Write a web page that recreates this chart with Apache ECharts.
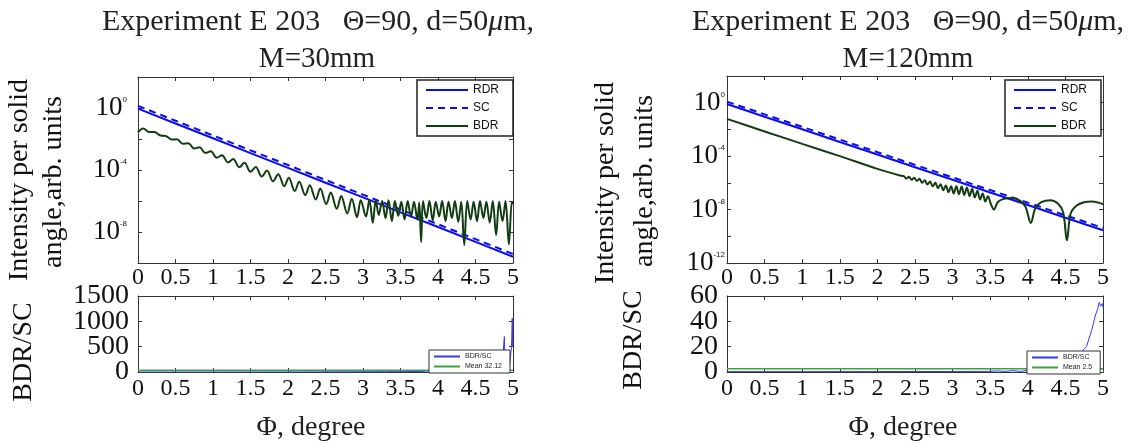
<!DOCTYPE html>
<html>
<head>
<meta charset="utf-8">
<script src="https://cdn.jsdelivr.net/npm/echarts@6/dist/echarts.min.js"></script>
<style>
html,body{margin:0;padding:0;background:#fff;}
#c{width:1135px;height:444px;}
</style>
</head>
<body>
<div id="c"></div>
<script>
// ---------------- data (intensities given as log10 values) ----------------
const xLine = [0, 0.5, 1, 1.5, 2, 2.5, 3, 3.5, 4, 4.5, 5];
const rdrLeftLog = [-0.04, -1.0, -1.95, -2.91, -3.86, -4.82, -5.77, -6.73, -7.68, -8.64, -9.6];
const scLeftLog  = [0.14, -0.82, -1.77, -2.73, -3.68, -4.64, -5.59, -6.55, -7.5, -8.46, -9.42];
const rdrRightLog = [-0.1, -1.05, -1.99, -2.94, -3.88, -4.83, -5.77, -6.72, -7.66, -8.61, -9.55];
const scRightLog  = [0.08, -0.87, -1.81, -2.76, -3.7, -4.65, -5.59, -6.54, -7.48, -8.43, -9.37];

const bdrLeftX = [0.00,0.07,0.15,0.22,0.30,0.37,0.45,0.52,0.60,0.67,0.75,0.82,0.90,0.97,1.05,1.12,1.20,1.27,1.35,1.42,
  1.50,1.57,1.65,1.72,1.80,1.87,1.95,2.01,2.09,2.15,2.23,2.29,2.37,2.43,2.51,2.57,2.65,2.71,2.79,2.85,2.92,2.97,
  3.04,3.085,3.13,3.17,3.21,3.255,3.30,3.34,3.385,3.425,3.47,3.51,3.555,3.595,3.64,3.68,3.725,3.75,3.775,3.80,
  3.845,3.885,3.93,3.97,4.015,4.055,4.10,4.14,4.185,4.225,4.27,4.31,4.35,4.39,4.435,4.475,4.52,4.56,4.605,4.645,
  4.69,4.73,4.775,4.815,4.86,4.90,4.945,4.985,5.0];
const bdrLeftLog = [-1.56,-1.32,-1.55,-1.55,-1.78,-1.80,-2.04,-2.02,-2.31,-2.27,-2.61,-2.53,-2.91,-2.79,-3.21,-3.05,-3.51,-3.29,-3.82,-3.54,
  -4.12,-3.80,-4.42,-4.03,-4.73,-4.28,-5.05,-4.50,-5.35,-4.75,-5.62,-4.98,-5.90,-5.20,-6.20,-5.45,-6.50,-5.68,-6.80,-5.85,-7.05,-5.95,
  -7.0,-5.9,-7.4,-5.95,-6.9,-6.0,-7.1,-5.95,-7.3,-6.0,-6.95,-6.05,-7.2,-6.0,-7.0,-6.05,-7.2,-6.1,-8.65,-6.0,
  -7.1,-6.0,-7.25,-6.05,-7.0,-6.0,-7.3,-6.05,-7.1,-6.0,-7.35,-6.05,-8.85,-6.0,-7.2,-6.05,-7.3,-6.0,-7.1,-6.05,
  -7.4,-6.0,-8.2,-6.05,-7.3,-6.0,-8.8,-6.05,-6.2];

const bdrRightX = [0, 0.5, 1.0, 1.5, 2.0, 2.3,
  2.35,2.385,2.42,2.455,2.49,2.525,2.56,2.595,2.63,2.665,2.70,2.735,2.77,2.805,2.84,2.875,2.91,2.945,2.98,3.015,
  3.05,3.085,3.12,3.155,3.19,3.225,3.26,3.295,3.33,3.365,3.40,3.435,3.47,3.51,3.55,
  3.6,3.68,3.8,3.9,3.97,4.04,4.1,4.18,4.3,4.4,4.47,4.52,4.57,4.65,4.75,4.85,4.95,5.0];
const bdrRightLog = [-1.21,-2.15,-3.08,-4.0,-4.95,-5.45,
  -5.50,-5.68,-5.55,-5.76,-5.62,-5.86,-5.70,-6.00,-5.80,-6.12,-5.90,-6.26,-6.00,-6.40,-6.10,-6.55,-6.20,-6.70,-6.25,-6.80,
  -6.25,-6.85,-6.28,-6.90,-6.35,-6.98,-6.45,-7.10,-6.60,-7.25,-6.80,-7.40,-7.00,-7.60,-8.00,
  -7.45,-7.2,-7.13,-7.35,-7.8,-9.0,-7.9,-7.45,-7.3,-7.55,-8.2,-10.3,-8.3,-7.7,-7.45,-7.4,-7.5,-7.6];

const ratioLeftX = [0,0.5,1,1.5,2,2.5,3,3.3,3.6,3.8,3.85,3.9,4.0,4.05,4.1,4.2,4.25,4.3,4.4,4.45,4.5,4.6,4.65,4.7,4.8,4.85,4.875,4.885,4.895,4.95,4.98,4.99,4.995,5.0];
const ratioLeft  = [0.1,0.2,0.4,0.8,1.5,3,5,6,8,12,20,6,14,28,8,18,32,10,20,35,12,22,36,14,25,40,15,700,30,60,490,1060,500,500];
const meanLeft = 32.12;

const ratioRightX = [0,1,2,3,3.5,3.6,3.7,3.8,3.9,4.0,4.1,4.2,4.3,4.4,4.5,4.6,4.7,4.78,4.85,4.9,4.93,4.95,4.97,4.99,5.0];
const ratioRight  = [0.3,0.3,0.35,0.4,0.5,0.9,0.4,1.1,0.5,1.3,0.6,1.5,3,5,8,11,15,20,33,45,50,55,52,54,51];
const meanRight = 2.5;

const yLabelExpLeft = [0, -4, -8];
const yLabelExpRight = [0, -4, -8, -12];
const ratioTicksLeft = [0, 500, 1000, 1500];
const ratioTicksRight = [0, 20, 40, 60];
const titleLine1 = 'Experiment E 203   Θ=90, d=50';
const titleLeft2 = 'M=30mm';
const titleRight2 = 'M=120mm';
const yName1 = 'Intensity per solid';
const yName2 = 'angle,arb. units';
const ratioName = 'BDR/SC';
const xName = 'Φ, degree';

// ---------------- chart ----------------
const SERIF = '"Liberation Serif","Times New Roman",serif';
const SANS = '"Liberation Sans",Arial,sans-serif';
const AX = '#333';
const zip = (xs, ys) => xs.map((x, i) => [x, ys[i]]);

function xPair(g, margin) {
  const base = {type:'value', gridIndex:g, min:0, max:5, interval:0.5,
    axisLine:{onZero:false, lineStyle:{color:AX, width:1}},
    axisTick:{inside:true, length:4, lineStyle:{color:AX}},
    splitLine:{show:false}};
  return [
    Object.assign({}, base, {position:'bottom',
      axisLabel:{margin:margin, fontFamily:SERIF, fontSize:24, color:'#111', showMinLabel:true, showMaxLabel:true}}),
    Object.assign({}, base, {position:'top', axisLabel:{show:false}})
  ];
}
function yPair(g, min, max, interval, labelOpt) {
  const base = {type:'value', gridIndex:g, min:min, max:max, interval:interval,
    axisLine:{onZero:false, lineStyle:{color:AX, width:1}},
    axisTick:{inside:true, length:4, lineStyle:{color:AX}},
    splitLine:{show:false}};
  return [
    Object.assign({}, base, {position:'left', axisLabel:labelOpt}),
    Object.assign({}, base, {position:'right', axisLabel:{show:false}})
  ];
}
function expLabels(list, margin) {
  return {margin:margin, fontFamily:SERIF, color:'#111', showMinLabel:true, showMaxLabel:true,
    formatter: v => list.indexOf(v) >= 0 ? '{b|10}{s|' + v + '}' : '',
    rich:{b:{fontFamily:SERIF, fontSize:27, lineHeight:24, color:'#111'},
          s:{fontFamily:SANS, fontSize:8, lineHeight:24, verticalAlign:'top', color:'#111'}}};
}
// labels of the ratio axes are split over two overlaid axes (alternate ticks) so none is auto-hidden
const numLabels = (margin, values) => ({margin:margin, fontFamily:SERIF, fontSize:28, lineHeight:20, color:'#111',
  showMinLabel:true, showMaxLabel:true, formatter: v => values.indexOf(v) >= 0 ? String(v) : ''});
function labelOnlyAxis(g, min, max, interval, values) {
  return {type:'value', gridIndex:g, min:min, max:max, interval:interval, position:'left',
    axisLine:{show:false, onZero:false}, axisTick:{show:false}, splitLine:{show:false},
    axisLabel:numLabels(9, values)};
}

const grids = [
  {left:138, top:77, width:375, height:186},
  {left:727, top:76, width:376, height:187},
  {left:138, top:296, width:375, height:76},
  {left:727, top:296, width:376, height:76}
];

const xAxes = [].concat(xPair(0, 3), xPair(1, 3), xPair(2, 5), xPair(3, 5));
const yAxes = [].concat(
  yPair(0, -10, 2, 2, expLabels(yLabelExpLeft, 11)),
  yPair(1, -12, 2, 2, expLabels(yLabelExpRight, 2)),
  yPair(2, 0, 1500, 500, numLabels(9, ratioTicksLeft.filter((v, i) => i % 2 === 0))),
  yPair(3, 0, 60, 20, numLabels(9, ratioTicksRight.filter((v, i) => i % 2 === 0))),
  [labelOnlyAxis(2, 0, 1500, 500, ratioTicksLeft.filter((v, i) => i % 2 === 1)),
   labelOnlyAxis(3, 0, 60, 20, ratioTicksRight.filter((v, i) => i % 2 === 1))]
);

const BLUE = '#0b0bf2', GREEN = '#123d12';
function topSeries(g, rdr, sc, bx, by) {
  return [
    {name:'RDR', type:'line', xAxisIndex:2*g, yAxisIndex:2*g, data:zip(xLine, rdr), symbol:'none',
      lineStyle:{color:BLUE, width:2}, itemStyle:{color:BLUE}},
    {name:'SC', type:'line', xAxisIndex:2*g, yAxisIndex:2*g, data:zip(xLine, sc), symbol:'none',
      lineStyle:{color:BLUE, width:2, type:[7,5]}, itemStyle:{color:BLUE}},
    {name:'BDR', type:'line', xAxisIndex:2*g, yAxisIndex:2*g, data:zip(bx, by), symbol:'none', smooth:0.35,
      lineStyle:{color:GREEN, width:2}, itemStyle:{color:GREEN}}
  ];
}
function bottomSeries(g, rx, ry, mean, meanName) {
  return [
    {name:'BDR/SC', type:'line', xAxisIndex:2*g, yAxisIndex:2*g, data:zip(rx, ry), symbol:'none',
      lineStyle:{color:'#3535ff', width:1}, itemStyle:{color:'#3535ff'}},
    {name:meanName, type:'line', xAxisIndex:2*g, yAxisIndex:2*g, data:[[0, mean], [5, mean]], symbol:'none',
      lineStyle:{color:'#3aa53a', width:1.5}, itemStyle:{color:'#3aa53a'}}
  ];
}

const series = [].concat(
  topSeries(0, rdrLeftLog, scLeftLog, bdrLeftX, bdrLeftLog),
  topSeries(1, rdrRightLog, scRightLog, bdrRightX, bdrRightLog),
  bottomSeries(2, ratioLeftX, ratioLeft, meanLeft, 'Mean 32.12'),
  bottomSeries(3, ratioRightX, ratioRight, meanRight, 'Mean 2.5')
);

function bigLegend(left, top) {
  return {left:left, top:top, orient:'vertical', data:['RDR','SC','BDR'],
    itemWidth:42, itemHeight:12, itemGap:6, padding:[4,14,4,8],
    borderColor:'#222', borderWidth:1.5, backgroundColor:'#fff',
    selectedMode:false, itemStyle:{opacity:0},
    textStyle:{fontFamily:SANS, fontSize:12, color:'#111'}};
}
function smallLegend(left, top, names) {
  return {left:left, top:top, orient:'vertical', data:names,
    itemWidth:26, itemHeight:6, itemGap:3, padding:[3,8,3,4],
    borderColor:'#333', borderWidth:1, backgroundColor:'#fff', selectedMode:false,
    itemStyle:{opacity:0},
    textStyle:{fontFamily:SANS, fontSize:7, color:'#222'}};
}

function vText(x, y, text, size) {
  return {type:'text', x:x, y:y, rotation:Math.PI/2,
    style:{text:text, fontFamily:SERIF, fontSize:size, fill:'#111', align:'center', verticalAlign:'middle'}};
}
function hText(x, y, text, size) {
  return {type:'text', x:x, y:y,
    style:{text:text, fontFamily:SERIF, fontSize:size, fill:'#222', align:'center', verticalAlign:'middle'}};
}
function titleText(cx, y) {
  return {type:'text', x:cx, y:y,
    style:{text:'{n|' + titleLine1 + '}{i|μ}{n|m,}', align:'center', verticalAlign:'middle',
      rich:{n:{fontFamily:SERIF, fontSize:30, fill:'#222'}, i:{fontFamily:SERIF, fontStyle:'italic', fontSize:30, fill:'#222'}}}};
}

const option = {
  backgroundColor:'#fff',
  animation:false,
  grid:grids.map(g => Object.assign({containLabel:false}, g)),
  xAxis:xAxes,
  yAxis:yAxes,
  legend:[
    bigLegend(417, 80),
    bigLegend(1005, 80),
    smallLegend(429, 350, ['BDR/SC', 'Mean 32.12']),
    smallLegend(1027, 351, ['BDR/SC', 'Mean 2.5'])
  ],
  series:series,
  graphic:[
    titleText(318, 22), hText(317, 59, titleLeft2, 29),
    titleText(908, 22), hText(908, 59, titleRight2, 29),
    vText(20, 180, yName1, 28), vText(54, 182, yName2, 28), vText(24, 352, ratioName, 28),
    vText(606, 183, yName1, 28), vText(645, 181, yName2, 28), vText(634, 340, ratioName, 28),
    hText(311, 428, xName, 28), hText(903, 428, xName, 28)
  ]
};

const chart = echarts.init(document.getElementById('c'), null, {renderer:'canvas'});
chart.setOption(option);
</script>
</body>
</html>
